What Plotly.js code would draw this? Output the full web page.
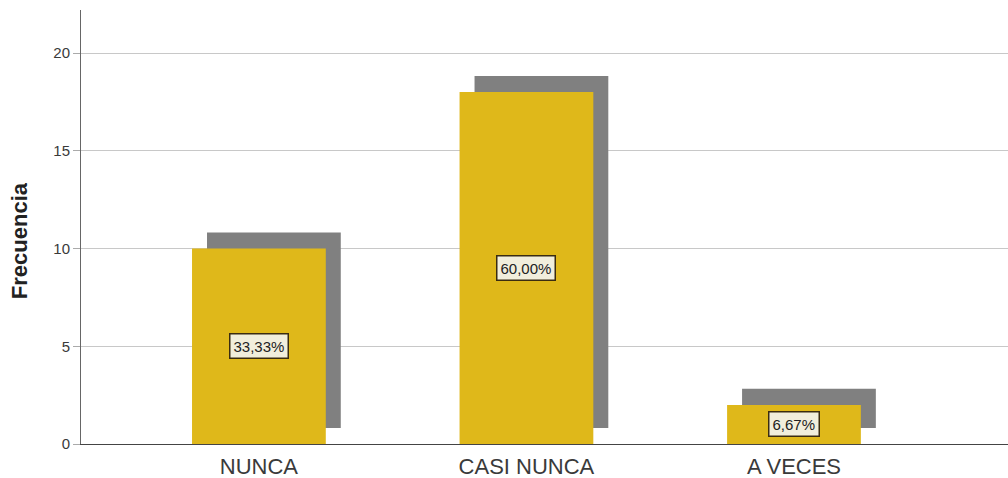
<!DOCTYPE html>
<html>
<head>
<meta charset="utf-8">
<script src="https://cdn.plot.ly/plotly-3.0.1.min.js"></script>
<style>html,body{margin:0;padding:0;background:#fff;}#chart{width:1008px;height:478px;}</style>
</head>
<body>
<div id="chart"></div>
<script>
const categories = ["NUNCA", "CASI NUNCA", "A VECES"];
const frequencies = [10, 18, 2];
const percentLabels = ["33,33%", "60,00%", "6,67%"];
const yTitle = "Frecuencia";

const shadowBase = 0.82;
const barWidth = 0.5;
const shadowShift = 0.056;

const shadow = {
  type: "bar",
  x: categories,
  y: frequencies,
  base: frequencies.map(() => shadowBase),
  width: barWidth,
  offset: -barWidth / 2 + shadowShift,
  marker: {color: "#808080", line: {width: 0}},
  hoverinfo: "skip",
  showlegend: false
};
const bars = {
  type: "bar",
  x: categories,
  y: frequencies,
  width: barWidth,
  offset: -barWidth / 2,
  marker: {color: "#DFB81A", line: {width: 0}},
  showlegend: false
};

const annotations = categories.map((c, i) => ({
  x: c, y: frequencies[i] / 2, xref: "x", yref: "y",
  text: percentLabels[i], showarrow: false,
  font: {family: "Liberation Sans, Arial, sans-serif", size: 15, color: "#222"},
  bgcolor: "#F1EEDC", bordercolor: "#3A2C10", borderwidth: 1.5, borderpad: 3
}));
annotations.push({
  text: yTitle, textangle: -90, showarrow: false,
  xref: "paper", yref: "paper", x: -0.0655, y: 0.468,
  xanchor: "center", yanchor: "middle",
  font: {family: "Liberation Sans, Arial, sans-serif", size: 22, color: "#222", weight: "bold"}
});

const layout = {
  width: 1008, height: 478,
  margin: {l: 81, r: 0, t: 10, b: 34},
  paper_bgcolor: "#fff", plot_bgcolor: "#fff",
  barmode: "overlay",
  font: {family: "Liberation Sans, Arial, sans-serif", color: "#333"},
  xaxis: {
    type: "category", categoryorder: "array", categoryarray: categories,
    range: [-0.665, 2.8],
    showgrid: false, zeroline: false,
    showline: true, linecolor: "#444", linewidth: 1,
    ticks: "", ticklabelstandoff: 3, tickfont: {size: 22, color: "#3a3a3a"}
  },
  yaxis: {
    range: [0, 22.2], tickvals: [0, 5, 10, 15, 20],
    showgrid: true, gridcolor: "#C8C8C8", gridwidth: 1,
    zeroline: false, showline: true, linecolor: "#666", linewidth: 1,
    ticks: "outside", ticklen: 7, tickcolor: "#aaa",
    tickfont: {size: 15, color: "#3a3a3a"}
  },
  annotations: annotations
};

Plotly.newPlot("chart", [shadow, bars], layout, {displayModeBar: false, staticPlot: true});
</script>
</body>
</html>
